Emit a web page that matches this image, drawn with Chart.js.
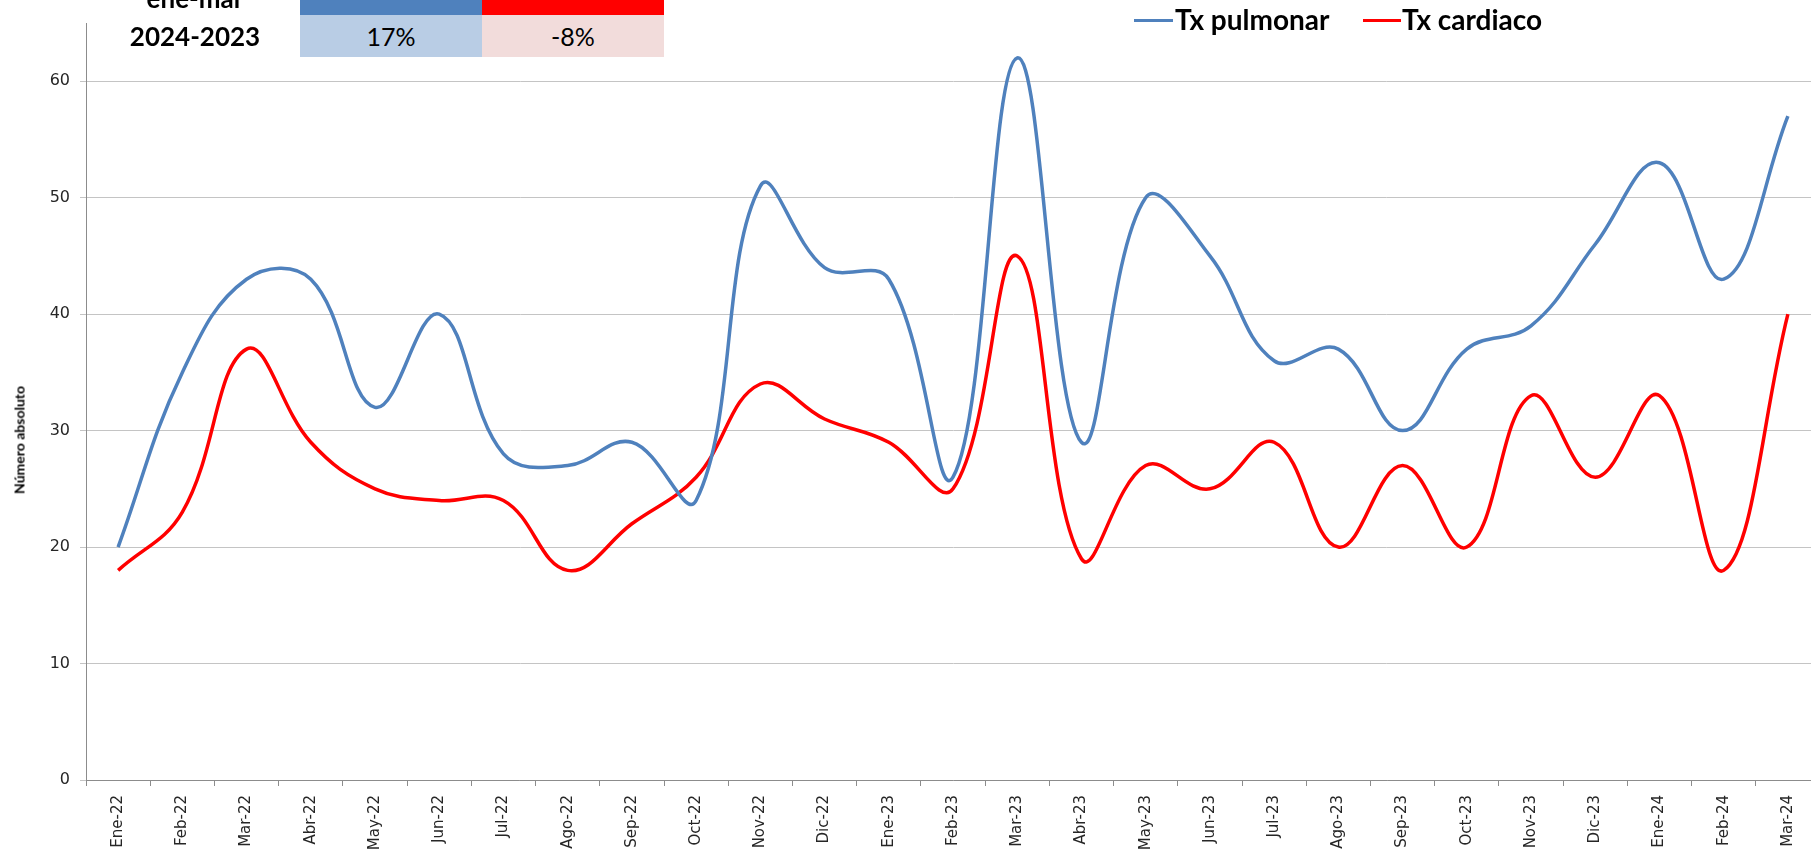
<!DOCTYPE html>
<html>
<head>
<meta charset="utf-8">
<script src="https://cdn.jsdelivr.net/npm/chart.js@4.4.1/dist/chart.umd.min.js"></script>
<style>
  html, body { margin: 0; padding: 0; background: #fff; overflow: hidden; }
  #wrap { position: relative; width: 1811px; height: 850px; overflow: hidden; }
  #txChart { position: absolute; left: 0; top: 0; }
  .cell { position: absolute; display: flex; align-items: center; justify-content: center; font-family: Lato, sans-serif; color: #000; }
  .lbl { position: absolute; font-family: Lato, sans-serif; font-weight: bold; color: #000; white-space: nowrap; }
  .legline { position: absolute; height: 3px; }
</style>
</head>
<body>
<div id="wrap">
  <canvas id="txChart" width="1830" height="850"></canvas>

  <!-- comparison table, top left -->
  <div class="lbl" style="left:125px; top:-15px; width:140px; text-align:center; font-size:26px; line-height:26px;">ene-mar</div>
  <div class="cell" id="h0" style="left:300px; top:-20px; width:182px; height:35px;"></div>
  <div class="cell" id="h1" style="left:482px; top:-20px; width:182px; height:35px;"></div>
  <div class="lbl" style="left:125px; top:15px; width:140px; height:42px; line-height:42px; text-align:center; font-size:26px;" id="periodo"></div>
  <div class="cell" id="v0" style="left:300px; top:15px; width:182px; height:42px; font-size:25px;"></div>
  <div class="cell" id="v1" style="left:482px; top:15px; width:182px; height:42px; font-size:25px;"></div>

  <!-- legend -->
  <div class="legline" id="ll0" style="left:1134px; top:19px; width:39px;"></div>
  <div class="lbl" id="lt0" style="left:1175px; top:1px; font-size:28px; line-height:36px;"></div>
  <div class="legline" id="ll1" style="left:1363px; top:19px; width:38px;"></div>
  <div class="lbl" id="lt1" style="left:1402px; top:1px; font-size:28px; line-height:36px;"></div>

  <!-- y axis title -->
  <div class="lbl" style="left:-43px; top:431px; width:125px; text-align:center; font-size:14px; line-height:18px; transform:rotate(-90deg);">Número absoluto</div>
</div>

<script>
// Data
const months = ['Ene-22','Feb-22','Mar-22','Abr-22','May-22','Jun-22','Jul-22','Ago-22','Sep-22','Oct-22','Nov-22','Dic-22',
                'Ene-23','Feb-23','Mar-23','Abr-23','May-23','Jun-23','Jul-23','Ago-23','Sep-23','Oct-23','Nov-23','Dic-23',
                'Ene-24','Feb-24','Mar-24'];
const txPulmonar = [20,35,43,43,32,40,28,27,29,24,51,44,43,26,62,29,50,45,36,37,30,37,39,46,53,43,57];
const txCardiaco = [18,23,37,29,25,24,24,18,22,26,34,31,29,25,45,19,27,25,29,20,27,20,33,26,33,18,40];
const seriesNames = ['Tx pulmonar', 'Tx cardiaco'];
const seriesColors = ['#4F81BD', '#FF0000'];
const cellColors = ['#B9CDE5', '#F2DCDB'];
const periodLabel = '2024-2023';
const variation = ['17%', '-8%'];

// table + legend text
document.getElementById('periodo').textContent = periodLabel;
for (let i = 0; i < 2; i++) {
    document.getElementById('h' + i).style.background = seriesColors[i];
    let v = document.getElementById('v' + i);
    v.style.background = cellColors[i];
    v.textContent = variation[i];
    document.getElementById('ll' + i).style.background = seriesColors[i];
    document.getElementById('lt' + i).textContent = seriesNames[i];
}

let ctx = document.getElementById('txChart').getContext('2d');
let txChart = new Chart(ctx, {
    type: 'line',
    data: {
        labels: months,
        datasets: [{
            label: seriesNames[0],
            data: txPulmonar,
            borderColor: seriesColors[0],
            borderWidth: 3.5,
            pointRadius: 0,
            tension: 0.4,
            fill: false
        }, {
            label: seriesNames[1],
            data: txCardiaco,
            borderColor: seriesColors[1],
            borderWidth: 3.5,
            pointRadius: 0,
            tension: 0.4,
            fill: false
        }]
    },
    options: {
        responsive: false,
        animation: false,
        devicePixelRatio: 1,
        layout: { padding: { left: 0, top: 23, right: 10, bottom: 0 } },
        plugins: {
            legend: { display: false },
            tooltip: { enabled: false }
        },
        scales: {
            x: {
                type: 'category',
                offset: true,
                grid: { display: true, drawOnChartArea: false, offset: true, tickLength: 6, color: '#8c8c8c' },
                border: { color: '#8c8c8c', width: 1 },
                ticks: {
                    autoSkip: false, minRotation: 90, maxRotation: 90, padding: 9,
                    color: '#262626', font: { family: 'DejaVu Sans, sans-serif', size: 15 }
                },
                afterFit: function(scale) { scale.height = 70; }
            },
            y: {
                min: 0,
                max: 65,
                bounds: 'data',
                grid: { color: '#c4c4c4', tickLength: 6 },
                border: { color: '#8c8c8c', width: 1 },
                ticks: {
                    stepSize: 10, padding: 10,
                    color: '#262626', font: { family: 'DejaVu Sans, sans-serif', size: 16 }
                },
                // only the multiples of 10 get a label and a grid line
                afterBuildTicks: function(scale) {
                    scale.ticks = scale.ticks.filter(t => t.value % 10 === 0);
                },
                afterFit: function(scale) { scale.width = 86; }
            }
        }
    }
});
</script>
</body>
</html>
